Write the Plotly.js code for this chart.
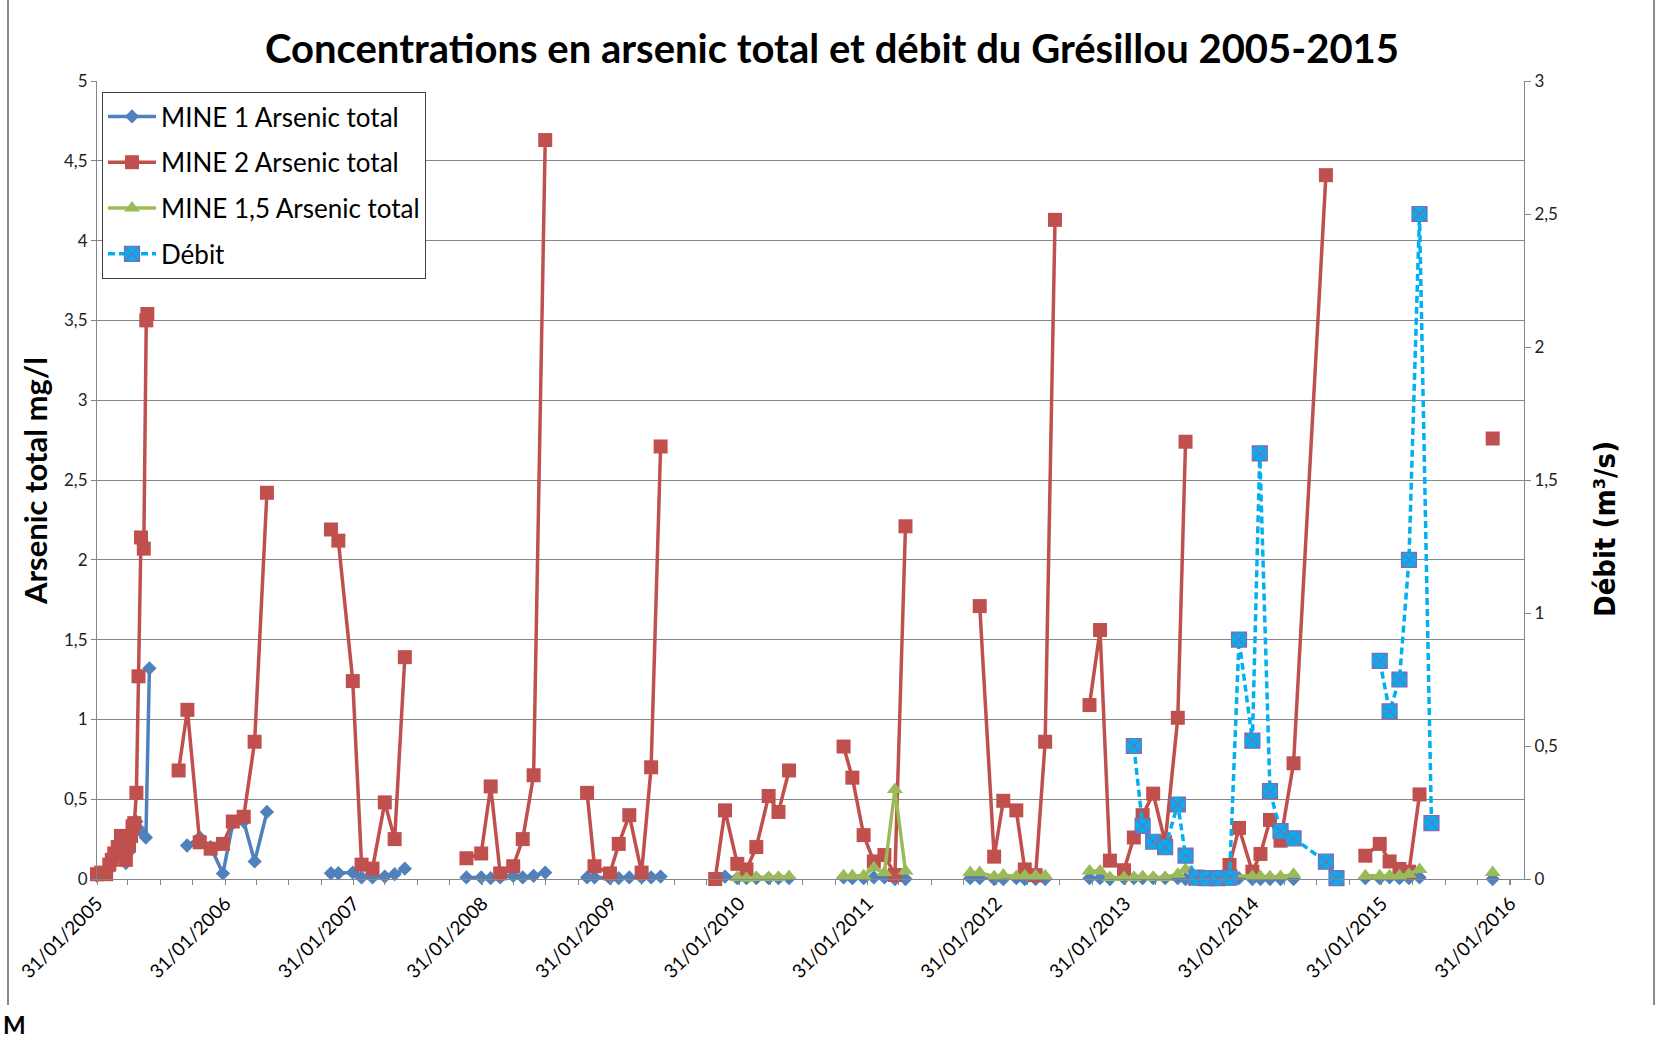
<!DOCTYPE html>
<html>
<head>
<meta charset="utf-8">
<script src="https://cdn.plot.ly/plotly-3.0.1.min.js"></script>
<style>
  html, body { margin: 0; padding: 0; background: #ffffff; }
  #chart { width: 1658px; height: 1040px; }
</style>
</head>
<body>
<div id="chart"></div>
<script>
// ---------------- DATA ----------------
const seriesNames = ['MINE 1 Arsenic total', 'MINE 2 Arsenic total', 'MINE 1,5 Arsenic total', 'Débit'];

const yearTicks = ['2005-01-31','2006-01-31','2007-01-31','2008-01-31','2009-01-31','2010-01-31',
                   '2011-01-31','2012-01-31','2013-01-31','2014-01-31','2015-01-31','2016-01-31'];

// MINE 2 Arsenic total (mg/l) — null marks a gap in the series
const mine2Dates = [
 '2005-01-31','2005-02-12','2005-02-26','2005-03-07','2005-03-14','2005-03-21','2005-03-31','2005-04-09','2005-04-16','2005-04-23',
 '2005-05-02','2005-05-08','2005-05-12','2005-05-17','2005-05-23','2005-05-29','2005-06-05','2005-06-13','2005-06-20','2005-06-23',
 '2005-08-15',
 '2005-09-20','2005-10-15','2005-11-19','2005-12-20','2006-01-24','2006-02-21','2006-03-24','2006-04-24','2006-05-29',
 '2006-09-01',
 '2006-11-27','2006-12-18','2007-01-28','2007-02-22','2007-03-25','2007-04-29','2007-05-27','2007-06-25',
 '2007-10-01',
 '2007-12-17','2008-01-28','2008-02-24','2008-03-22','2008-04-28','2008-05-25','2008-06-25','2008-07-28',
 '2008-10-01',
 '2008-11-24','2008-12-15','2009-01-28','2009-02-22','2009-03-24','2009-04-28','2009-05-25','2009-06-21',
 '2009-09-01',
 '2009-11-23','2009-12-21','2010-01-25','2010-02-20','2010-03-20','2010-04-24','2010-05-22','2010-06-21',
 '2010-09-01',
 '2010-11-23','2010-12-18','2011-01-19','2011-02-17','2011-03-19','2011-04-18','2011-05-18',
 '2011-08-01',
 '2011-12-15','2012-01-25','2012-02-20','2012-03-28','2012-04-21','2012-05-22','2012-06-18','2012-07-16',
 '2012-09-01',
 '2012-10-22','2012-11-21','2012-12-19','2013-01-28','2013-02-25','2013-03-22','2013-04-21','2013-05-25','2013-06-30','2013-07-22',
 '2013-09-21',
 '2013-11-24','2013-12-21','2014-01-28','2014-02-20','2014-03-19','2014-04-18','2014-05-25','2014-08-25',
 '2014-10-15',
 '2014-12-15','2015-01-25','2015-02-22','2015-03-22','2015-04-18','2015-05-18',
 '2015-09-01',
 '2015-12-12'
];
const mine2Values = [
 0.03,0.04,0.03,0.09,0.12,0.16,0.20,0.27,0.18,0.12,
 0.21,0.27,0.33,0.35,0.54,1.27,2.14,2.07,3.50,3.54,
 null,
 0.68,1.06,0.23,0.19,0.22,0.36,0.39,0.86,2.42,
 null,
 2.19,2.12,1.24,0.09,0.065,0.48,0.25,1.39,
 null,
 0.13,0.16,0.58,0.035,0.08,0.25,0.65,4.63,
 null,
 0.54,0.08,0.035,0.22,0.40,0.04,0.70,2.71,
 null,
 0.0,0.43,0.095,0.06,0.20,0.52,0.42,0.68,
 null,
 0.83,0.635,0.275,0.11,0.15,0.025,2.21,
 null,
 1.71,0.14,0.49,0.43,0.06,0.024,0.86,4.13,
 null,
 1.09,1.56,0.115,0.055,0.26,0.40,0.535,0.23,1.01,2.74,
 null,
 0.088,0.32,0.046,0.157,0.37,0.24,0.725,4.41,
 null,
 0.146,0.22,0.11,0.063,0.046,0.53,
 null,
 2.76
];

// MINE 1 Arsenic total (mg/l)
const mine1Dates = [
 '2005-01-31','2005-02-12','2005-02-26','2005-03-07','2005-03-14','2005-03-21','2005-03-31','2005-04-09','2005-04-16','2005-04-23',
 '2005-05-02','2005-05-08','2005-05-12','2005-05-23','2005-06-05','2005-06-19','2005-06-29',
 '2005-08-15',
 '2005-10-14','2005-11-19','2005-12-20','2006-01-24','2006-02-21','2006-03-24','2006-04-24','2006-05-29',
 '2006-09-01',
 '2006-11-27','2006-12-18','2007-01-28','2007-02-22','2007-03-25','2007-04-29','2007-05-27','2007-06-25',
 '2007-10-01',
 '2007-12-17','2008-01-28','2008-02-24','2008-03-22','2008-04-28','2008-05-25','2008-06-25','2008-07-28',
 '2008-10-01',
 '2008-11-24','2008-12-15','2009-01-28','2009-02-22','2009-03-24','2009-04-28','2009-05-25','2009-06-21',
 '2009-09-01',
 '2009-11-23','2009-12-21','2010-01-25','2010-02-20','2010-03-20','2010-04-24','2010-05-22','2010-06-21',
 '2010-09-01',
 '2010-11-23','2010-12-18','2011-01-19','2011-02-17','2011-03-19','2011-04-18','2011-05-18',
 '2011-08-01',
 '2011-11-18','2011-12-15','2012-01-25','2012-02-20','2012-03-28','2012-04-21','2012-05-22','2012-06-18',
 '2012-09-01',
 '2012-10-22','2012-11-21','2012-12-19','2013-01-28','2013-02-25','2013-03-22','2013-04-21','2013-05-25','2013-06-30','2013-07-22',
 '2013-09-21',
 '2013-11-24','2013-12-21','2014-01-28','2014-02-20','2014-03-19','2014-04-18','2014-05-25',
 '2014-10-15',
 '2014-12-15','2015-01-25','2015-02-22','2015-03-22','2015-04-18','2015-05-18',
 '2015-09-01',
 '2015-12-12'
];
const mine1Values = [
 0.02,0.03,0.03,0.06,0.10,0.14,0.17,0.20,0.15,0.10,
 0.17,0.24,0.30,0.36,0.30,0.26,1.32,
 null,
 0.21,0.26,0.20,0.035,0.35,0.36,0.11,0.42,
 null,
 0.036,0.036,0.04,0.01,0.01,0.015,0.03,0.065,
 null,
 0.01,0.01,0.005,0.01,0.02,0.01,0.02,0.04,
 null,
 0.01,0.01,0.005,0.005,0.01,0.01,0.01,0.015,
 null,
 0.0,0.015,0.005,0.005,0.005,0.005,0.005,0.005,
 null,
 0.01,0.005,0.005,0.01,0.01,0.0,0.0,
 null,
 0.005,0.005,0.0,0.0,0.005,0.0,0.0,0.0,
 null,
 0.005,0.005,0.0,0.005,0.005,0.005,0.005,0.005,0.005,0.0,
 null,
 0.0,0.005,0.0,0.0,0.0,0.0,0.0,
 null,
 0.005,0.005,0.01,0.005,0.005,0.01,
 null,
 0.0
];

// MINE 1,5 Arsenic total (mg/l)
const mine15Dates = [
 '2010-01-25','2010-02-20','2010-03-20','2010-04-24','2010-05-22','2010-06-21',
 '2010-09-01',
 '2010-11-23','2010-12-18','2011-01-19','2011-02-17','2011-03-19','2011-04-18','2011-05-18',
 '2011-08-01',
 '2011-11-18','2011-12-15','2012-01-25','2012-02-20','2012-03-28','2012-04-21','2012-05-22','2012-06-18',
 '2012-09-01',
 '2012-10-22','2012-11-21','2012-12-19','2013-01-28','2013-02-25','2013-03-22','2013-04-21','2013-05-25','2013-06-30','2013-07-22',
 '2013-09-21',
 '2013-11-24','2014-01-28','2014-02-20','2014-03-19','2014-04-18','2014-05-25',
 '2014-10-15',
 '2014-12-15','2015-01-25','2015-02-22','2015-03-22','2015-04-18','2015-05-18',
 '2015-09-01',
 '2015-12-12'
];
const mine15Values = [
 0.01,0.005,0.01,0.01,0.01,0.015,
 null,
 0.02,0.02,0.02,0.07,0.04,0.56,0.05,
 null,
 0.04,0.04,0.015,0.025,0.015,0.02,0.02,0.02,
 null,
 0.05,0.05,0.01,0.01,0.01,0.015,0.01,0.01,0.03,0.06,
 null,
 0.02,0.015,0.015,0.015,0.015,0.03,
 null,
 0.02,0.02,0.02,0.02,0.03,0.06,
 null,
 0.04
];

// Débit (m³/s) — secondary axis
const debitDates = [
 '2013-02-25','2013-03-22','2013-04-21','2013-05-25','2013-06-30','2013-07-22','2013-08-22','2013-09-19','2013-10-22','2013-11-24',
 '2013-12-21','2014-01-28','2014-02-18','2014-03-19','2014-04-18','2014-05-25','2014-08-25','2014-09-24',
 '2014-11-01',
 '2015-01-25','2015-02-22','2015-03-22','2015-04-18','2015-05-18','2015-06-21'
];
const debitValues = [
 0.50,0.20,0.14,0.12,0.28,0.088,0.005,0.003,0.003,0.005,
 0.90,0.52,1.60,0.33,0.18,0.153,0.065,0.003,
 null,
 0.82,0.63,0.75,1.20,2.50,0.21
];

// ---------------- CHART ----------------
const FONT = 'Lato, "Open Sans", sans-serif';
const GRID = '#868686';

const traces = [
  {
    name: seriesNames[0], legendgroup: 'g1', x: mine1Dates, y: mine1Values, type: 'scatter', mode: 'lines+markers',
    line: {color: '#4F81BD', width: 3.5}, marker: {symbol: 'diamond', size: 11, color: '#4F81BD'}, cliponaxis: false
  },
  {
    name: seriesNames[1], legendgroup: 'g2', x: mine2Dates, y: mine2Values, type: 'scatter', mode: 'lines+markers',
    line: {color: '#C0504D', width: 3.5}, marker: {symbol: 'square', size: 14, color: '#C0504D'}, cliponaxis: false
  },
  {
    name: seriesNames[2], legendgroup: 'g3', x: mine15Dates, y: mine15Values, type: 'scatter', mode: 'lines+markers',
    line: {color: '#9BBB59', width: 3.5}, marker: {symbol: 'triangle-up', size: 14, color: '#9BBB59'}, cliponaxis: false
  },
  {
    name: seriesNames[3], legendgroup: 'g4', x: debitDates, y: debitValues, yaxis: 'y2', type: 'scatter', mode: 'lines+markers',
    line: {color: '#00B0F0', width: 3.5, dash: '7px,4px'},
    marker: {symbol: 'square-x', size: 15, color: '#00B0F0', line: {color: '#7F6BB0', width: 1.2}}, cliponaxis: false
  }
];

const L = 97, R = 134, T = 81, B = 161;
const PW = 1658 - L - R, PH = 1040 - T - B;
const px2x = px => (px - L) / PW;
const py2y = py => (1040 - B - py) / PH;

const layout = {
  width: 1658, height: 1040,
  margin: {l: L, r: R, t: T, b: B, pad: 0},
  paper_bgcolor: '#ffffff', plot_bgcolor: '#ffffff',
  separators: ', ',
  font: {family: FONT, color: '#000000'},
  showlegend: true,
  title: {
    text: '<b>Concentrations en arsenic total et débit du Grésillou 2005-2015</b>',
    font: {family: FONT, size: 40, color: '#000000'},
    xref: 'container', x: 832 / 1658, xanchor: 'center',
    yref: 'container', y: 1 - 49 / 1040, yanchor: 'middle'
  },
  xaxis: {
    type: 'date', range: ['2005-01-31', '2016-03-10'],
    tickmode: 'array', tickvals: yearTicks, tickformat: '%d/%m/%Y', tickangle: -45,
    ticks: 'outside', ticklen: 5, tickwidth: 1, tickcolor: GRID,
    tickfont: {family: FONT, size: 19, color: '#000000'},
    showline: true, linecolor: GRID, linewidth: 1, showgrid: false, zeroline: false,
    minor: {ticks: 'outside', ticklen: 5, tickwidth: 1, tickcolor: GRID, dtick: 'M3', tick0: '2005-01-30', showgrid: false}
  },
  yaxis: {
    range: [0, 5], dtick: 0.5, tick0: 0,
    ticks: 'outside', ticklen: 5, tickcolor: GRID,
    tickfont: {family: FONT, size: 17, color: '#222222'},
    showline: true, linecolor: GRID, linewidth: 1,
    showgrid: true, gridcolor: GRID, gridwidth: 1, zeroline: false
  },
  yaxis2: {
    overlaying: 'y', side: 'right', range: [0, 3], dtick: 0.5, tick0: 0,
    ticks: 'outside', ticklen: 6, tickcolor: GRID,
    tickfont: {family: FONT, size: 17, color: '#222222'},
    showline: true, linecolor: GRID, linewidth: 1,
    showgrid: false, zeroline: false
  },
  legend: {
    x: px2x(102), y: py2y(92), xanchor: 'left', yanchor: 'top',
    bgcolor: '#ffffff', bordercolor: '#404040', borderwidth: 1,
    font: {family: FONT, size: 26, color: '#000000'},
    tracegroupgap: 9, itemwidth: 48, traceorder: 'grouped'
  },
  annotations: [
    {
      text: '<b>Arsenic total mg/l</b>', textangle: -90, showarrow: false,
      xref: 'paper', yref: 'paper', x: px2x(35), y: py2y(481), xanchor: 'center', yanchor: 'middle',
      font: {family: FONT, size: 31, color: '#000000'}
    },
    {
      text: '<b>Débit (m³/s)</b>', textangle: -90, showarrow: false,
      xref: 'paper', yref: 'paper', x: px2x(1605), y: py2y(529), xanchor: 'center', yanchor: 'middle',
      font: {family: '"DejaVu Sans Condensed", "DejaVu Sans", sans-serif', size: 29, color: '#000000'}
    },
    {
      text: '<b>M</b>', showarrow: false,
      xref: 'paper', yref: 'paper', x: px2x(1), y: py2y(1024), xanchor: 'left', yanchor: 'middle',
      font: {family: FONT, size: 24, color: '#000000'}
    }
  ],
  shapes: [
    {type: 'line', xref: 'paper', yref: 'paper', x0: px2x(8), x1: px2x(8), y0: py2y(0), y1: py2y(1005),
     line: {color: '#8a8a8a', width: 2}},
    {type: 'line', xref: 'paper', yref: 'paper', x0: px2x(1654), x1: px2x(1654), y0: py2y(0), y1: py2y(1005),
     line: {color: '#8a8a8a', width: 2}}
  ]
};

Plotly.newPlot('chart', traces, layout, {displayModeBar: false, staticPlot: true});
</script>
</body>
</html>
